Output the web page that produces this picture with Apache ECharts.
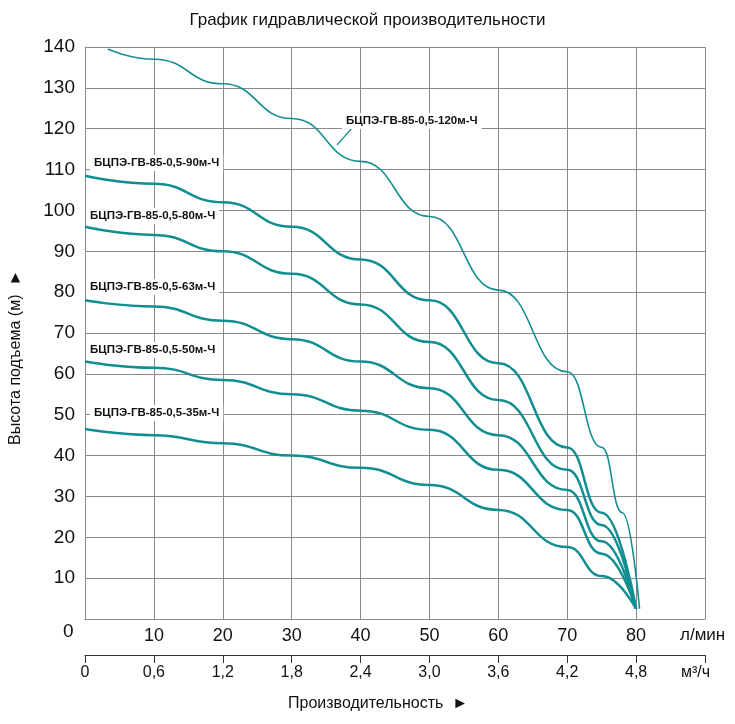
<!doctype html>
<html>
<head>
<meta charset="utf-8">
<title>График</title>
<script src="https://cdn.jsdelivr.net/npm/echarts@6/dist/echarts.min.js"></script>
<style>html,body{margin:0;background:#fff}#main{width:735px;height:724px}</style>
</head>
<body>
<div id="main"></div>
<script>
var flow = [0, 10, 20, 30, 40, 50, 60, 70, 75, 80];
var h35 = [46.5, 45, 43, 40, 37, 32.8, 26.7, 17.6, 10.5, 2.5];
var h50 = [63, 61.5, 58.5, 55, 51, 46.3, 36.5, 26.7, 16, 2.5];
var h63 = [78, 76.5, 73, 68.5, 63, 56.5, 45, 31.6, 19, 2.5];
var h80 = [96, 94, 90, 84.5, 77, 67.8, 53.6, 36.5, 23, 2.5];
var h90 = [108.5, 106.5, 102, 96, 88, 78, 62.6, 42, 26, 2.5];
var flow120 = [3.3, 10, 20, 30, 40, 50, 60, 70, 75, 78, 80.5];
var h120 = [139.5, 137, 131, 122.5, 112, 98.5, 80.5, 60.5, 42, 26, 2.5];
var names = ['БЦПЭ-ГВ-85-0,5-35м-Ч', 'БЦПЭ-ГВ-85-0,5-50м-Ч', 'БЦПЭ-ГВ-85-0,5-63м-Ч',
             'БЦПЭ-ГВ-85-0,5-80м-Ч', 'БЦПЭ-ГВ-85-0,5-90м-Ч', 'БЦПЭ-ГВ-85-0,5-120м-Ч'];

var color = '#118e92';
function pairs(xs, ys) { return xs.map(function (x, i) { return [x, ys[i]]; }); }
function line(name, data, w) {
    return { name: name, type: 'line', data: data, smooth: 0.5, smoothMonotone: 'x', symbol: 'none',
             lineStyle: { color: color, width: w }, silent: true };
}
var chart = echarts.init(document.getElementById('main'));
var font = 'Arial, "Liberation Sans", sans-serif';
var grid = '#8a8a8a';
function lbl(text, x, y) {
    return { type: 'text', left: x, top: y, z: 10,
             style: { text: text, font: 'bold 11.5px ' + font, fill: '#111',
                      backgroundColor: '#fff', padding: [2, 4] } };
}
chart.setOption({
    animation: false,
    title: { text: 'График гидравлической производительности', left: 'center', top: 7,
             textStyle: { fontSize: 17, fontWeight: 'normal', color: '#111', fontFamily: font } },
    grid: { left: 85, right: 30, top: 47, bottom: 105 },
    xAxis: [{
        type: 'value', min: 0, max: 90, interval: 10,
        axisLine: { lineStyle: { color: grid } }, axisTick: { show: false },
        splitLine: { lineStyle: { color: grid, width: 1 } },
        axisLabel: { fontSize: 18, color: '#111', fontFamily: font, margin: 8,
                     formatter: function (v) { return (v === 0 || v === 90) ? '' : v; } }
    }, {
        type: 'value', position: 'bottom', offset: 36, min: 0, max: 5.4, interval: 0.6,
        axisLine: { lineStyle: { color: '#333' } },
        axisTick: { inside: false, length: 8, lineStyle: { color: '#333' } },
        splitLine: { show: false },
        axisLabel: { fontSize: 16, color: '#111', fontFamily: font, margin: 10,
                     formatter: function (v) { return v > 5 ? '' : (v === 0 ? '0' : v.toFixed(1).replace('.', ',')); } }
    }],
    yAxis: {
        type: 'value', min: 0, max: 140, interval: 10,
        axisLine: { lineStyle: { color: grid } }, axisTick: { show: false },
        splitLine: { lineStyle: { color: grid, width: 1 } },
        axisLabel: { fontSize: 19, color: '#111', fontFamily: font, margin: 10,
                     formatter: function (v) { return v === 0 ? '' : v; } }
    },
    series: [
        line(names[0], pairs(flow, h35), 2.5),
        line(names[1], pairs(flow, h50), 2.5),
        line(names[2], pairs(flow, h63), 2.5),
        line(names[3], pairs(flow, h80), 2.5),
        line(names[4], pairs(flow, h90), 2.5),
        line(names[5], pairs(flow120, h120), 1.6)
    ],
    graphic: [
        { type: 'text', left: 63, top: 622, style: { text: '0', font: '19px ' + font, fill: '#111' } },
        { type: 'text', left: 680, top: 627, style: { text: 'л/мин', font: '17px ' + font, fill: '#111' } },
        { type: 'text', left: 681, top: 665, style: { text: 'м³/ч', font: '16px ' + font, fill: '#111' } },
        { type: 'text', left: 288, top: 696, style: { text: 'Производительность  ►', font: '16px ' + font, fill: '#111' } },
        { type: 'text', x: 8, y: 445, rotation: Math.PI / 2,
          style: { text: 'Высота подъема (м)  ►', font: '16px ' + font, fill: '#111' },
          originX: 0, originY: 0 },
        { type: 'line', shape: { x1: 337, y1: 145, x2: 352, y2: 128 }, style: { stroke: color, lineWidth: 1.2 }, z: 9 },
        lbl(names[5], 342, 113),
        lbl(names[4], 90, 155),
        lbl(names[3], 86, 208),
        lbl(names[2], 86, 279),
        lbl(names[1], 86, 342),
        lbl(names[0], 90, 405)
    ]
});
</script>
</body>
</html>
